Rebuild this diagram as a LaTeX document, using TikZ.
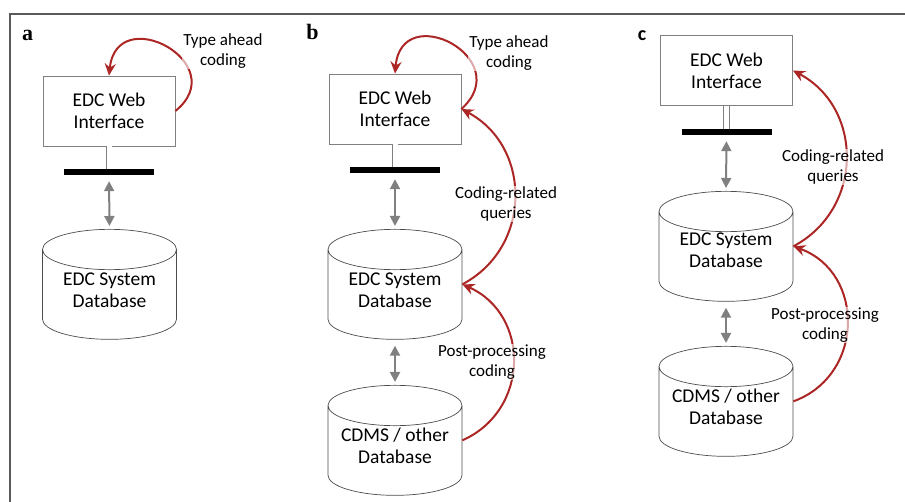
\documentclass[tikz,border=0pt]{standalone}
\usepackage{fontspec}
\setmainfont{Carlito}
\newfontfamily\lettera{Liberation Serif}
\usetikzlibrary{arrows.meta, positioning, shapes.geometric, calc}
\definecolor{rosso}{RGB}{172,38,38}
\definecolor{grigio}{RGB}{128,128,128}
\definecolor{cornice}{RGB}{90,90,90}

\begin{document}
\begin{tikzpicture}[x=1pt, y=1pt,
	web/.style={rectangle, draw=grigio, line width=0.8pt, minimum width=132pt,
		minimum height=70pt, align=center, font=\fontsize{19.5}{22}\selectfont},
	db/.style={cylinder, shape border rotate=90, aspect=0.36, draw=black!70,
		line width=0.7pt, minimum width=134pt, minimum height=110pt,
		inner xsep=56pt, inner ysep=0pt, anchor=north},
	dbtesto/.style={align=center, inner sep=0pt, font=\fontsize{19.5}{22}\selectfont},
	barra/.style={rectangle, fill=black, minimum width=90pt, minimum height=6pt, inner sep=0pt},
	asta/.style={draw=grigio, line width=0.6pt, double=white, double distance=5pt},
	link/.style={grigio, line width=2pt,
		{Triangle[width=10pt,length=10pt]}-{Triangle[width=10pt,length=10pt]},
		shorten <=6pt, shorten >=3pt},
	coding/.style={rosso, line width=2pt, -{Stealth[width=11pt,length=12pt]}},
	etichetta/.style={align=center, font=\fontsize{17}{20}\selectfont,
		fill=white, fill opacity=0.6, text opacity=1, inner sep=1pt},
	lettera/.style={anchor=base, inner sep=0pt}]
	
	\useasboundingbox (0,0) rectangle (905,502);
	
	% Cornice
	\draw[cornice, line width=2pt] (905,488) -- (10,488) -- (10,0);
	
	% --- Pannello a ---
	\node[lettera, font=\lettera\bfseries\fontsize{22}{24}\selectfont] (la) at (27.5,461) {a};
	\node[web] (wa) at (109,391) {EDC Web\\Interface};
	\node[barra] (bara) at (109,330) {};
	\node[db] (dba) at (109.5,273) {};
	\node[dbtesto] (tdba) at ([yshift=-61pt]dba.north) {EDC System\\Database};
	
	\draw[asta] (wa.south) -- (bara.north);
	\draw[link] (bara.south) -- (dba.north);
	\draw[coding] (wa.east) to[out=39, in=84, looseness=2.55] (wa.north);
	
	\node[etichetta] (ta) at (223,451) {Type ahead\\coding};
	
	% --- Pannello b ---
	\node[lettera, font=\lettera\bfseries\fontsize{22}{24}\selectfont] (lb) at (312.5,462) {b};
	\node[web] (wb) at (395,393) {EDC Web\\Interface};
	\node[barra] (barb) at (395,332) {};
	\node[db] (dbb1) at (395,273) {};
	\node[db] (dbb2) at (395,117) {};
	\node[dbtesto] (tdbb1) at ([yshift=-61pt]dbb1.north) {EDC System\\Database};
	\node[dbtesto] (tdbb2) at ([yshift=-60.5pt]dbb2.north) {CDMS / other\\Database};
	\coordinate (mb1) at ($(dbb1.north)!.5!(dbb1.south)$);
	\coordinate (mb2) at ($(dbb2.north)!.5!(dbb2.south)$);
	
	\draw[asta] (wb.south) -- (barb.north);
	\draw[link] (barb.south) -- (dbb1.north);
	\draw[link] (dbb1.south) -- (dbb2.north);
	\draw[coding] (wb.east) to[out=42, in=85, looseness=2.55] (wb.north);
	\draw[coding] (mb1 -| dbb1.east) to[out=28, in=-28, looseness=1.16] (wb.east);
	\draw[coding] (mb2 -| dbb2.east) to[out=24, in=-24, looseness=1.22] (mb1 -| dbb1.east);
	
	\node[etichetta] (tb) at (509,449) {Type ahead\\coding};
	\node[etichetta] (qb) at (506,298) {Coding-related\\queries};
	\node[etichetta] (pb) at (492,140) {Post-processing\\coding};
	
	% --- Pannello c ---
	\node[lettera, font=\bfseries\fontsize{20}{24}\selectfont] (lc) at (642,461) {c};
	\node[web] (wc) at (726.5,431.5) {EDC Web\\Interface};
	\node[barra] (barc) at (726.5,370) {};
	\node[db] (dbc1) at (726,311) {};
	\node[db] (dbc2) at (726,156) {};
	\node[dbtesto] (tdbc1) at ([yshift=-59.5pt]dbc1.north) {EDC System\\Database};
	\node[dbtesto] (tdbc2) at ([yshift=-61pt]dbc2.north) {CDMS / other\\Database};
	\coordinate (mc1) at ($(dbc1.north)!.5!(dbc1.south)$);
	\coordinate (mc2) at ($(dbc2.north)!.5!(dbc2.south)$);
	
	\draw[asta] (wc.south) -- (barc.north);
	\draw[link] (barc.south) -- (dbc1.north);
	\draw[link] (dbc1.south) -- (dbc2.north);
	\draw[coding] (mc1 -| dbc1.east) to[out=28, in=-28, looseness=1.16] (wc.east);
	\draw[coding] (mc2 -| dbc2.east) to[out=20, in=-20, looseness=1.26] (mc1 -| dbc1.east);
	
	\node[etichetta] (qc) at (833,335) {Coding-related\\queries};
	\node[etichetta] (pc) at (825,177) {Post-processing\\coding};
	
\end{tikzpicture}
\end{document}
